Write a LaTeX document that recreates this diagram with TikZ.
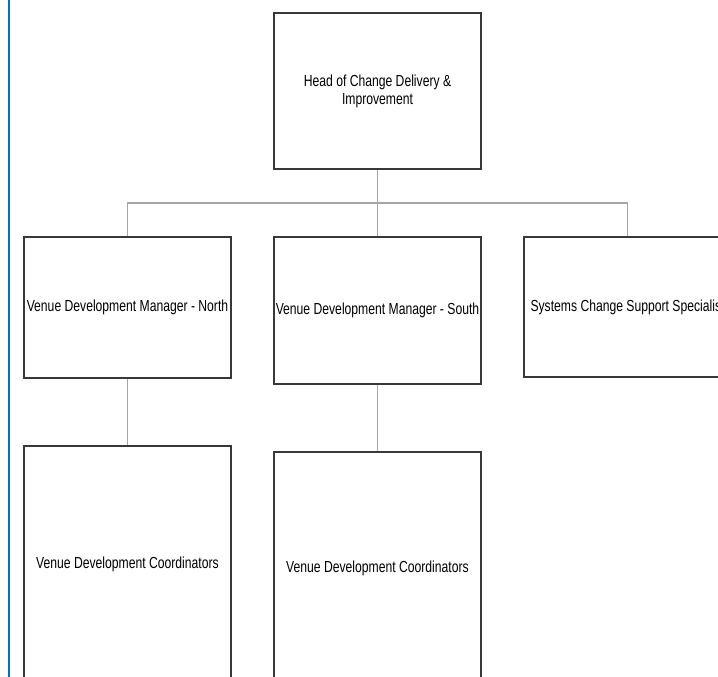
\documentclass[tikz,border=0pt]{standalone}
\usepackage{fontspec}
\newfontfamily\orgfont[FakeStretch=0.76]{Liberation Sans}
\usetikzlibrary{positioning}
\definecolor{edgeblue}{HTML}{0070C0}

\begin{document}
\begin{tikzpicture}[x=1pt,y=-1pt,
    post/.style={draw=black!78, line width=1.5pt, fill=white, inner sep=1pt,
      minimum width=207pt, align=center, font=\orgfont\fontsize{16}{18}\selectfont},
    link/.style={draw=black!35, line width=1.2pt}]
      \useasboundingbox (0,0) rectangle (718,677);
      \clip (0,0) rectangle (718,677);
      \draw[edgeblue, line width=2pt] (9,0) -- (9,677);

      \node[post, minimum height=156pt] (Head) at (377.5,91) {Head of Change Delivery \&\\Improvement};
      \node[post, on grid, below left=216.5pt and 250pt of Head, minimum height=141pt] (North) {Venue Development Manager - North};
      \node[post, on grid, below=219.5pt of Head, minimum height=147pt] (South) {Venue Development Manager - South};
      \node[post, on grid, below right=216pt and 250pt of Head, minimum height=140pt] (Systems) {Systems Change Support Specialist};
      \node[post, on grid, below=256.5pt of North, minimum height=236pt] (CoordN) {Venue Development Coordinators};
      \node[post, on grid, below=257.5pt of South, minimum height=232pt] (CoordS) {Venue Development Coordinators};

      \coordinate (Bus) at (377.5,203);
      \draw[link] (Head) -- (Bus);
      \draw[link] (Bus) -| (North);
      \draw[link] (Bus) -- (South);
      \draw[link] (Bus) -| (Systems);
      \draw[link] (North) -- (CoordN);
      \draw[link] (South) -- (CoordS);
    \end{tikzpicture}
\end{document}
